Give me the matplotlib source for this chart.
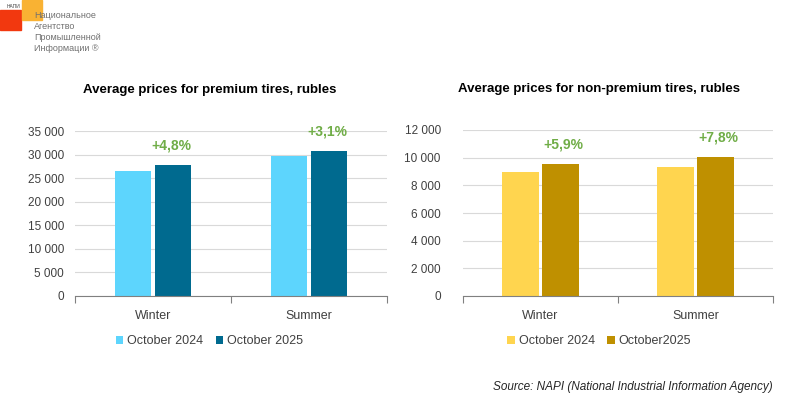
import matplotlib.pyplot as plt
from matplotlib.patches import Rectangle
from matplotlib.ticker import FuncFormatter

plt.rcParams['font.family'] = ['Liberation Sans', 'DejaVu Sans']

# data
categories = ['Winter', 'Summer']
premium_2024 = [26500, 29800]
premium_2025 = [27800, 30700]
premium_change = ['+4,8%', '+3,1%']
nonprem_2024 = [9000, 9300]
nonprem_2025 = [9550, 10020]
nonprem_change = ['+5,9%', '+7,8%']
premium_labels = ['October 2024', 'October 2025']
nonprem_labels = ['October 2024', 'October2025']


def thousands(v, pos):
    return '{:,.0f}'.format(v).replace(',', ' ')


def draw_panel(ax, v1, v2, changes, labels, colors, title, ymax, ystep, ypad, xc, lshift):
    x = list(range(len(categories)))
    w = 0.235
    off = 0.128
    ax.bar([i - off for i in x], v1, w, color=colors[0], label=labels[0])
    b2 = ax.bar([i + off for i in x], v2, w, color=colors[1], label=labels[1])
    for rect, txt in zip(b2, changes):
        ax.annotate(txt, (rect.get_x() + rect.get_width() / 2 + lshift, rect.get_height()),
                    xytext=(0, 14), textcoords='offset points', ha='center', va='center',
                    color='#70AD47', fontsize=10, fontweight='bold')
    ax.set_xlim(-0.5, len(categories) - 0.5)
    ax.set_ylim(0, ymax)
    ax.set_yticks(range(0, ymax + 1, ystep))
    ax.yaxis.set_major_formatter(FuncFormatter(thousands))
    ax.set_xticks(x)
    ax.set_xticklabels(categories)
    ax.set_xticks([i - 0.5 for i in range(len(categories) + 1)], minor=True)
    ax.tick_params(axis='x', which='major', length=0, pad=10, labelsize=9, colors='#404040')
    ax.tick_params(axis='x', which='minor', length=5, color='#808080', width=0.8)
    ax.tick_params(axis='y', length=0, labelsize=8.5, colors='#404040', pad=ypad)
    ax.grid(axis='y', color='#D9D9D9', linewidth=0.8)
    ax.set_axisbelow(True)
    for s in ['left', 'right', 'top']:
        ax.spines[s].set_visible(False)
    ax.spines['bottom'].set_color('#808080')
    ax.spines['bottom'].set_linewidth(0.8)
    ax.text(xc, 1 + 41 / 165, title, transform=ax.transAxes, ha='center', va='center',
            fontsize=9.5, fontweight='bold')
    ax.legend(loc='center', bbox_to_anchor=(xc, -45 / 165), ncol=2, frameon=False,
              fontsize=9, handlelength=0.6, handleheight=0.6, handletextpad=0.3,
              columnspacing=1.0, labelcolor='#404040')


fig = plt.figure(figsize=(7.99, 3.99), dpi=100)
ax1 = fig.add_axes([75 / 799, 1 - 296 / 399, 312 / 799, 165 / 399])
ax2 = fig.add_axes([463 / 799, 1 - 296 / 399, 310 / 799, 166 / 399])

draw_panel(ax1, premium_2024, premium_2025, premium_change, premium_labels,
           ['#5DD5FD', '#006A8F'], 'Average prices for premium tires, rubles',
           35000, 5000, 8, 0.431, -0.01)
draw_panel(ax2, nonprem_2024, nonprem_2025, nonprem_change, nonprem_labels,
           ['#FFD54F', '#BF9000'], 'Average prices for non-premium tires, rubles',
           12000, 2000, 16, 0.439, 0.02)

# logo
fig.patches.append(Rectangle((0, 1 - 30 / 399), 21 / 799, 20 / 399, transform=fig.transFigure,
                             color='#F2380F', zorder=0))
fig.patches.append(Rectangle((22 / 799, 1 - 20 / 399), 20 / 799, 20 / 399, transform=fig.transFigure,
                             color='#F9B233', zorder=0))
fig.text(7 / 799, 1 - 6 / 399, 'НАПИ', fontsize=3.5, color='#404040', va='center')
logo_lines = ['Национальное', 'Агентство', 'Промышленной', 'Информации ®']
for k, line in enumerate(logo_lines):
    fig.text(34 / 799, 1 - (16 + 10.7 * k) / 399, line, fontsize=6.5, color='#707070',
             va='center')

fig.text(773 / 799, 1 - 387 / 399, 'Source: NAPI (National Industrial Information Agency)',
         ha='right', va='center', fontsize=8.5, style='italic', color='#262626')

fig.savefig('out.png', dpi=100)
